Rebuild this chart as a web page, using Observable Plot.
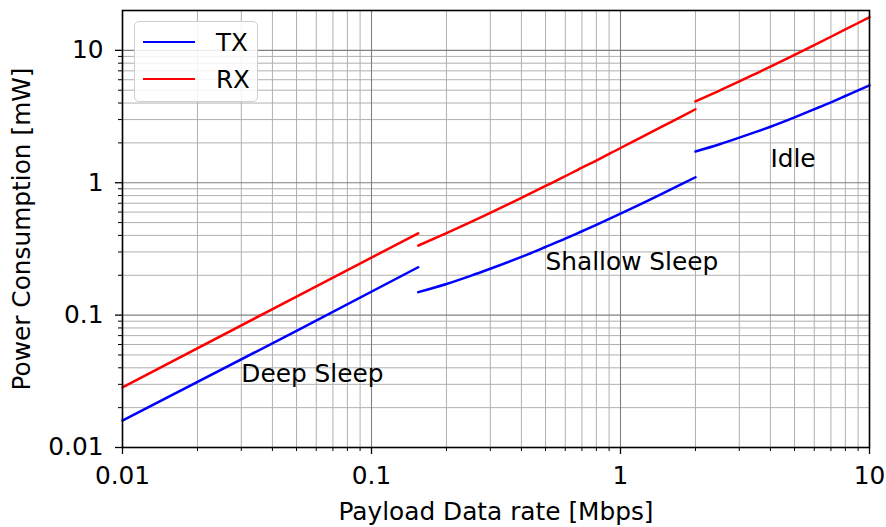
<!DOCTYPE html>
<html><head><meta charset="utf-8">
<script src="https://cdn.jsdelivr.net/npm/d3@7"></script>
<script src="https://cdn.jsdelivr.net/npm/@observablehq/plot@0.6"></script>
<style>
body{margin:0;background:#fff;font-family:"DejaVu Sans",sans-serif;}
#wrap{position:relative;width:886px;height:527px;}
#legend{position:absolute;left:134px;top:21px;width:124px;height:81px;border:1.5px solid #d0d0d0;border-radius:5px;background:rgba(255,255,255,0.85);box-sizing:border-box;font-size:24.5px;}
#legend .row{position:absolute;left:8px;height:26px;display:flex;align-items:center;}
#legend .sw{width:52px;height:2.5px;margin-right:21px;}
</style></head>
<body><div id="wrap"><div id="chart"></div>
<div id="legend"></div></div>
<script>
const series = ["TX", "RX"];
const colors = ["#0000ff", "#ff0000"];
const segments = ["Deep Sleep", "Shallow Sleep", "Idle"];

const txDeepX = [0.01, 0.05, 0.154];
const txDeepY = [0.016, 0.076, 0.23];
const txShallowX = [0.154, 0.2, 0.25, 0.3, 0.4, 0.5, 0.6, 0.7, 0.8, 1, 1.2, 1.5, 1.75, 2];
const txShallowY = [0.149, 0.172, 0.198, 0.224, 0.275, 0.327, 0.378, 0.43, 0.481, 0.584, 0.687, 0.842, 0.97, 1.1];
const txIdleX = [2, 2.5, 3, 3.5, 4, 5, 6, 7, 8, 9, 10];
const txIdleY = [1.72, 1.955, 2.19, 2.42, 2.65, 3.12, 3.59, 4.05, 4.52, 4.98, 5.45];

const rxDeepX = [0.01, 0.05, 0.154];
const rxDeepY = [0.0285, 0.138, 0.415];
const rxShallowX = [0.154, 0.2, 0.25, 0.3, 0.4, 0.5, 0.6, 0.7, 0.8, 1, 1.2, 1.5, 1.75, 2];
const rxShallowY = [0.335, 0.416, 0.504, 0.592, 0.769, 0.945, 1.12, 1.30, 1.47, 1.83, 2.18, 2.71, 3.15, 3.59];
const rxIdleX = [2, 2.5, 3, 3.5, 4, 5, 6, 7, 8, 9, 10];
const rxIdleY = [4.11, 4.97, 5.82, 6.68, 7.53, 9.25, 10.96, 12.67, 14.38, 16.09, 17.8];

const labelText = ["Deep Sleep", "Shallow Sleep", "Idle"];
const labelX = [0.03, 0.5, 4.0];
const labelY = [0.036, 0.25, 1.52];

const xMajor = [0.01, 0.1, 1, 10];
const xMajorLabels = ["0.01", "0.1", "1", "10"];
const yMajor = [0.01, 0.1, 1, 10];
const yMajorLabels = ["0.01", "0.1", "1", "10"];
const xMinor = [0.02,0.03,0.04,0.05,0.06,0.07,0.08,0.09,0.2,0.3,0.4,0.5,0.6,0.7,0.8,0.9,2,3,4,5,6,7,8,9];
const yMinor = [0.02,0.03,0.04,0.05,0.06,0.07,0.08,0.09,0.2,0.3,0.4,0.5,0.6,0.7,0.8,0.9,2,3,4,5,6,7,8,9];

const groups = [
  ["TX", "Deep Sleep", txDeepX, txDeepY],
  ["TX", "Shallow Sleep", txShallowX, txShallowY],
  ["TX", "Idle", txIdleX, txIdleY],
  ["RX", "Deep Sleep", rxDeepX, rxDeepY],
  ["RX", "Shallow Sleep", rxShallowX, rxShallowY],
  ["RX", "Idle", rxIdleX, rxIdleY]
];
const data = groups.flatMap(([s, seg, xs, ys]) => xs.map((x, i) => ({series: s, seg, key: s + seg, x, y: ys[i]})));
const labels = labelText.map((t, i) => ({t, x: labelX[i], y: labelY[i]}));

const fs = 24.8;
const chart = Plot.plot({
  width: 886, height: 527,
  marginLeft: 122, marginRight: 17, marginTop: 10, marginBottom: 80,
  style: {fontFamily: "DejaVu Sans, sans-serif", fontSize: fs + "px", background: "white", color: "black"},
  x: {type: "log", domain: [0.01, 10]},
  y: {type: "log", domain: [0.01, 20]},
  color: {domain: series, range: colors},
  marks: [
    Plot.ruleX(xMinor, {stroke: "#b0b0b0", strokeWidth: 1}),
    Plot.ruleY(yMinor, {stroke: "#b0b0b0", strokeWidth: 1}),
    Plot.ruleX(xMajor, {stroke: "#808080", strokeWidth: 1.1}),
    Plot.ruleY(yMajor, {stroke: "#808080", strokeWidth: 1.1}),
    Plot.line(data, {x: "x", y: "y", z: "key", stroke: "series", strokeWidth: 2.5, curve: "monotone-x"}),
    Plot.text(labels, {x: "x", y: "y", text: "t", textAnchor: "start", fontSize: fs, fill: "black"}),
    Plot.frame({stroke: "black", strokeWidth: 1.6}),
    Plot.axisX(xMajor, {tickSize: 7, tickPadding: 12, tickFormat: (d, i) => xMajorLabels[xMajor.indexOf(d)], fontSize: fs, strokeWidth: 1.3,
      label: "Payload Data rate [Mbps]", labelAnchor: "center", labelArrow: "none", labelOffset: 72}),
    Plot.axisX(xMinor, {tickSize: 4, tickFormat: () => "", strokeWidth: 1, label: null}),
    Plot.axisY(yMajor, {tickSize: 7, tickPadding: 12, tickFormat: (d) => yMajorLabels[yMajor.indexOf(d)], fontSize: fs, strokeWidth: 1.3,
      label: "Power Consumption [mW]", labelAnchor: "center", labelArrow: "none", labelOffset: 110}),
    Plot.axisY(yMinor, {tickSize: 4, tickFormat: () => "", strokeWidth: 1, label: null})
  ]
});
document.getElementById("chart").appendChild(chart);

const leg = document.getElementById("legend");
const rowTops = [7, 44];
series.forEach((s, i) => {
  const r = document.createElement("div");
  r.className = "row";
  r.style.top = rowTops[i] + "px";
  r.innerHTML = `<div class="sw" style="background:${colors[i]}"></div><span>${s}</span>`;
  leg.appendChild(r);
});
</script></body></html>
